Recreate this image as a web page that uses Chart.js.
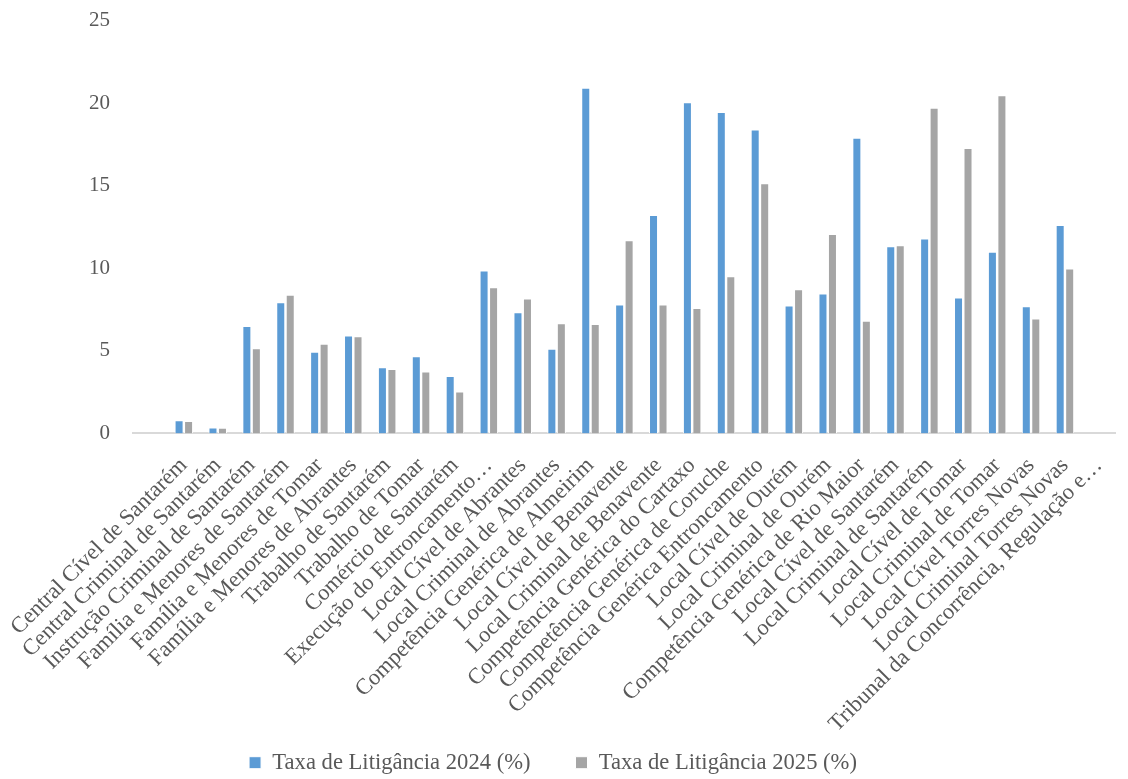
<!DOCTYPE html>
<html>
<head>
<meta charset="utf-8">
<script src="https://cdn.jsdelivr.net/npm/chart.js@4.4.1/dist/chart.umd.min.js"></script>
<style>
    html, body { margin: 0; padding: 0; background: #fff; overflow: hidden; }
    /* canvas a bit bigger than the window so the plot area lands where the original has it */
    #wrap { width: 1168px; height: 794px; margin-left: -31px; margin-top: -15px; }
</style>
</head>
<body>
<div id="wrap"><canvas id="litigancia"></canvas></div>
<script>
const tribunais = [
    '',
    'Central Cível de Santarém',
    'Central Criminal de Santarém',
    'Instrução Criminal de Santarém',
    'Família e Menores de Santarém',
    'Família e Menores de Tomar',
    'Família e Menores de Abrantes',
    'Trabalho de Santarém',
    'Trabalho de Tomar',
    'Comércio de Santarém',
    'Execução do Entroncamento…',
    'Local Cível de Abrantes',
    'Local Criminal de Abrantes',
    'Competência Genérica de Almeirim',
    'Local Cível de Benavente',
    'Local Criminal de Benavente',
    'Competência Genérica do Cartaxo',
    'Competência Genérica de Coruche',
    'Competência Genérica Entroncamento',
    'Local Cível de Ourém',
    'Local Criminal de Ourém',
    'Competência Genérica de Rio Maior',
    'Local Cível de Santarém',
    'Local Criminal de Santarém',
    'Local Cível de Tomar',
    'Local Criminal de Tomar',
    'Local Cível Torres Novas',
    'Local Criminal Torres Novas',
    'Tribunal da Concorrência, Regulação e…'
]

const taxa2024 = [null, 0.8, 0.36, 6.5, 7.95, 4.95, 5.93, 4.0, 4.67, 3.47, 9.87, 7.33, 5.13, 20.93, 7.8, 13.22, 20.05, 19.46, 18.4, 7.75, 8.48, 17.9, 11.33, 11.8, 8.23, 11.0, 7.7, 12.62, null]
const taxa2025 = [null, 0.75, 0.34, 5.15, 8.4, 5.43, 5.88, 3.9, 3.75, 2.54, 8.85, 8.17, 6.67, 6.62, 11.7, 7.8, 7.6, 9.52, 15.15, 8.73, 12.08, 6.82, 11.4, 19.72, 17.28, 20.48, 6.96, 9.98, null]
const yTicks = [0, 5, 10, 15, 20, 25]

const textColor = '#595959'
const fontFamily = '"Liberation Serif", "Times New Roman", serif'

// the long rotated labels run past the x axis box, so stop them being clipped there
const noLabelClip = {
    id: 'noLabelClip',
    afterLayout(chart) {
        chart.scales.x.bottom = chart.height
    }
}

function litiganciaChart() {
    const ctx = document.getElementById('litigancia')

    new Chart(ctx, {
        type: 'bar',
        data: {
            labels: tribunais,
            datasets: [{
                label: 'Taxa de Litigância 2024 (%)',
                data: taxa2024,
                backgroundColor: '#5B9BD5',
                borderColor: '#ffffff',
                borderWidth: 1
            }, {
                label: 'Taxa de Litigância 2025 (%)',
                data: taxa2025,
                backgroundColor: '#A5A5A5',
                borderColor: '#ffffff',
                borderWidth: 1
            }]
        },
        plugins: [noLabelClip],
        options: {
            responsive: true,
            maintainAspectRatio: false,
            animation: false,
            datasets: {
                bar: { categoryPercentage: 0.56, barPercentage: 0.95 }
            },
            layout: { padding: { top: 0, right: 0, left: 0, bottom: -5 } },
            scales: {
                x: {
                    grid: { display: false, drawTicks: false },
                    border: { display: true, color: '#D9D9D9', width: 2 },
                    ticks: {
                        autoSkip: false,
                        minRotation: 45,
                        maxRotation: 45,
                        padding: 19,
                        color: textColor,
                        font: { family: fontFamily, size: 22.6 }
                    },
                    afterFit: (scale) => { scale.height = 273 }
                },
                y: {
                    min: 0,
                    max: 25,
                    afterBuildTicks: (scale) => { scale.ticks = yTicks.map(v => ({ value: v })) },
                    grid: { display: false, drawTicks: false },
                    border: { display: false },
                    ticks: {
                        padding: 23,
                        color: textColor,
                        font: { family: fontFamily, size: 21 }
                    },
                    afterFit: (scale) => { scale.width = 164 }
                }
            },
            plugins: {
                legend: {
                    position: 'bottom',
                    labels: {
                        boxWidth: 12,
                        boxHeight: 12,
                        padding: 45,
                        color: textColor,
                        font: { family: fontFamily, size: 22.6 }
                    }
                },
                tooltip: { enabled: false }
            }
        }
    })
}

litiganciaChart()
</script>
</body>
</html>
